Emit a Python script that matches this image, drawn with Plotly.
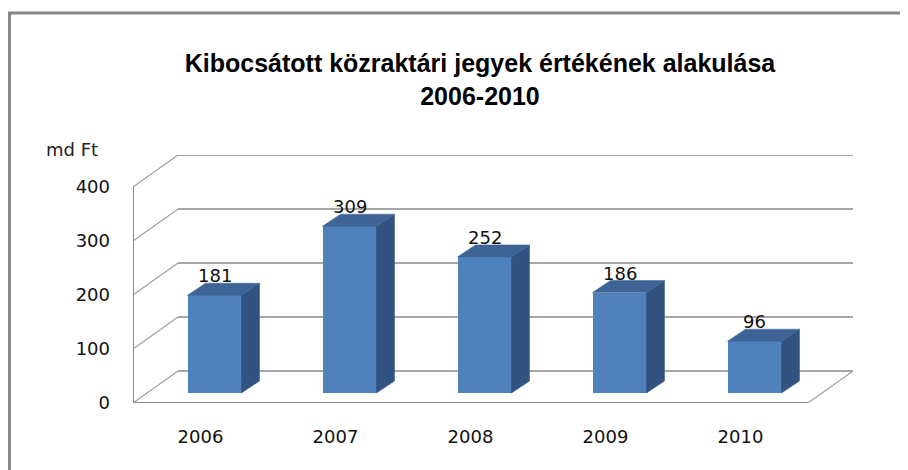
import plotly.graph_objects as go

# ---- data ----
years = ["2006", "2007", "2008", "2009", "2010"]
values = [181, 309, 252, 186, 96]
y_ticks = [0, 100, 200, 300, 400]
title_text = "Kibocsátott közraktári jegyek értékének alakulása<br>2006-2010"
unit_label = "md Ft"

# ---- pseudo-3D geometry ----
# page body has an 8px margin, so the figure is offset by 8px
OFF = 8
W, H = 908 - OFF, 470 - OFF
L, R, T, B = 133 - OFF, 55, 155 - OFF, 67
cat_px = 135.0
y_px = 0.54                      # pixels per value unit
back_dx, back_dy = 45 / cat_px, 32 / y_px   # back wall offset
bar_dx, bar_dy = 14 / cat_px, 10 / y_px     # bar front plane offset
dep_dx, dep_dy = 18 / cat_px, 12 / y_px     # bar depth
bw = 0.4
ymax = 400

c_front = "#4F81BD"
c_side = "#325380"
c_top = "#3D6494"
grid_c = "#8A8A8A"
font_num = "DejaVu Sans, Liberation Sans, sans-serif"
font_title = "Liberation Sans, Arial, sans-serif"

fig = go.Figure()

# side faces and top faces
for i, v in enumerate(values):
    c = i + bar_dx
    b = bar_dy
    t = v + bar_dy
    x0 = c + bw / 2
    fig.add_trace(go.Scatter(
        x=[x0, x0 + dep_dx, x0 + dep_dx, x0, x0],
        y=[b, b + dep_dy, t + dep_dy, t, b],
        fill="toself", fillcolor=c_side, mode="lines",
        line=dict(color=c_side, width=0.5), hoverinfo="skip", showlegend=False))
    fig.add_trace(go.Scatter(
        x=[c - bw / 2, c + bw / 2, c + bw / 2 + dep_dx, c - bw / 2 + dep_dx, c - bw / 2],
        y=[t, t, t + dep_dy, t + dep_dy, t],
        fill="toself", fillcolor=c_top, mode="lines",
        line=dict(color=c_top, width=0.5), hoverinfo="skip", showlegend=False))

# front faces
fig.add_trace(go.Bar(
    x=[i + bar_dx for i in range(len(values))], y=values, base=bar_dy, width=bw,
    marker=dict(color=c_front, line=dict(width=0)), showlegend=False,
    hovertext=years, hoverinfo="text+y"))

shapes = []
# back wall gridlines and side diagonals
for v in y_ticks:
    shapes.append(dict(type="line", xref="x", yref="y", layer="below",
                       x0=-0.5 + back_dx, x1=len(years) - 0.5 + back_dx,
                       y0=v + back_dy, y1=v + back_dy,
                       line=dict(color=grid_c, width=1.5)))
    shapes.append(dict(type="line", xref="x", yref="y", layer="below",
                       x0=-0.5, x1=-0.5 + back_dx, y0=v, y1=v + back_dy,
                       line=dict(color="#A0A0A0", width=1.2)))
# floor right edge
shapes.append(dict(type="line", xref="x", yref="y", layer="below",
                   x0=len(years) - 0.5, x1=len(years) - 0.5 + back_dx, y0=0, y1=back_dy,
                   line=dict(color="#A0A0A0", width=1.2)))
# front floor edge and vertical axis
shapes.append(dict(type="line", xref="x", yref="y",
                   x0=-0.5, x1=len(years) - 0.5, y0=0, y1=0,
                   line=dict(color=grid_c, width=2)))
shapes.append(dict(type="line", xref="x", yref="y",
                   x0=-0.5, x1=-0.5, y0=0, y1=ymax,
                   line=dict(color=grid_c, width=2)))
# outer chart frame
pw, ph = W - L - R, H - T - B
def px2x(p): return (p - OFF - L) / pw
def py2y(p): return (H + OFF - B - p) / ph
shapes.append(dict(type="rect", xref="paper", yref="paper",
                   x0=px2x(9.5), x1=px2x(908 + 20), y0=py2y(470 + 20), y1=py2y(13),
                   line=dict(color="#878787", width=3), fillcolor="rgba(0,0,0,0)"))

annotations = []
for i, v in enumerate(values):
    annotations.append(dict(x=i + bar_dx, y=v + bar_dy + dep_dy, xref="x", yref="y",
                            text=str(v), showarrow=False, xanchor="center",
                            yanchor="bottom", yshift=-5,
                            font=dict(family=font_num, size=18, color="#111")))
annotations.append(dict(x=px2x(72), y=py2y(150), xref="paper", yref="paper",
                        text=unit_label, showarrow=False,
                        xanchor="center", yanchor="middle",
                        font=dict(family=font_num, size=18, color="#222")))

fig.update_layout(
    width=W, height=H,
    margin=dict(l=L, r=R, t=T, b=B, pad=0),
    paper_bgcolor="white", plot_bgcolor="white",
    title=dict(text=title_text, x=(480 - OFF) / W, xanchor="center",
               y=1 - (72 - OFF) / H, yanchor="middle",
               font=dict(family=font_title, size=25, color="#000", weight="bold")),
    xaxis=dict(range=[-0.5, len(years) - 0.5 + back_dx],
               tickvals=list(range(len(years))), ticktext=years,
               showgrid=False, zeroline=False, showline=False, ticks="",
               ticklabelstandoff=21,
               tickfont=dict(family=font_num, size=18, color="#111")),
    yaxis=dict(range=[0, ymax + back_dy], tickvals=y_ticks,
               showgrid=False, zeroline=False, showline=False, ticks="",
               ticklabelstandoff=22,
               tickfont=dict(family=font_num, size=18, color="#111")),
    shapes=shapes, annotations=annotations,
    bargap=0, showlegend=False,
)

fig.write_html("out.html")
